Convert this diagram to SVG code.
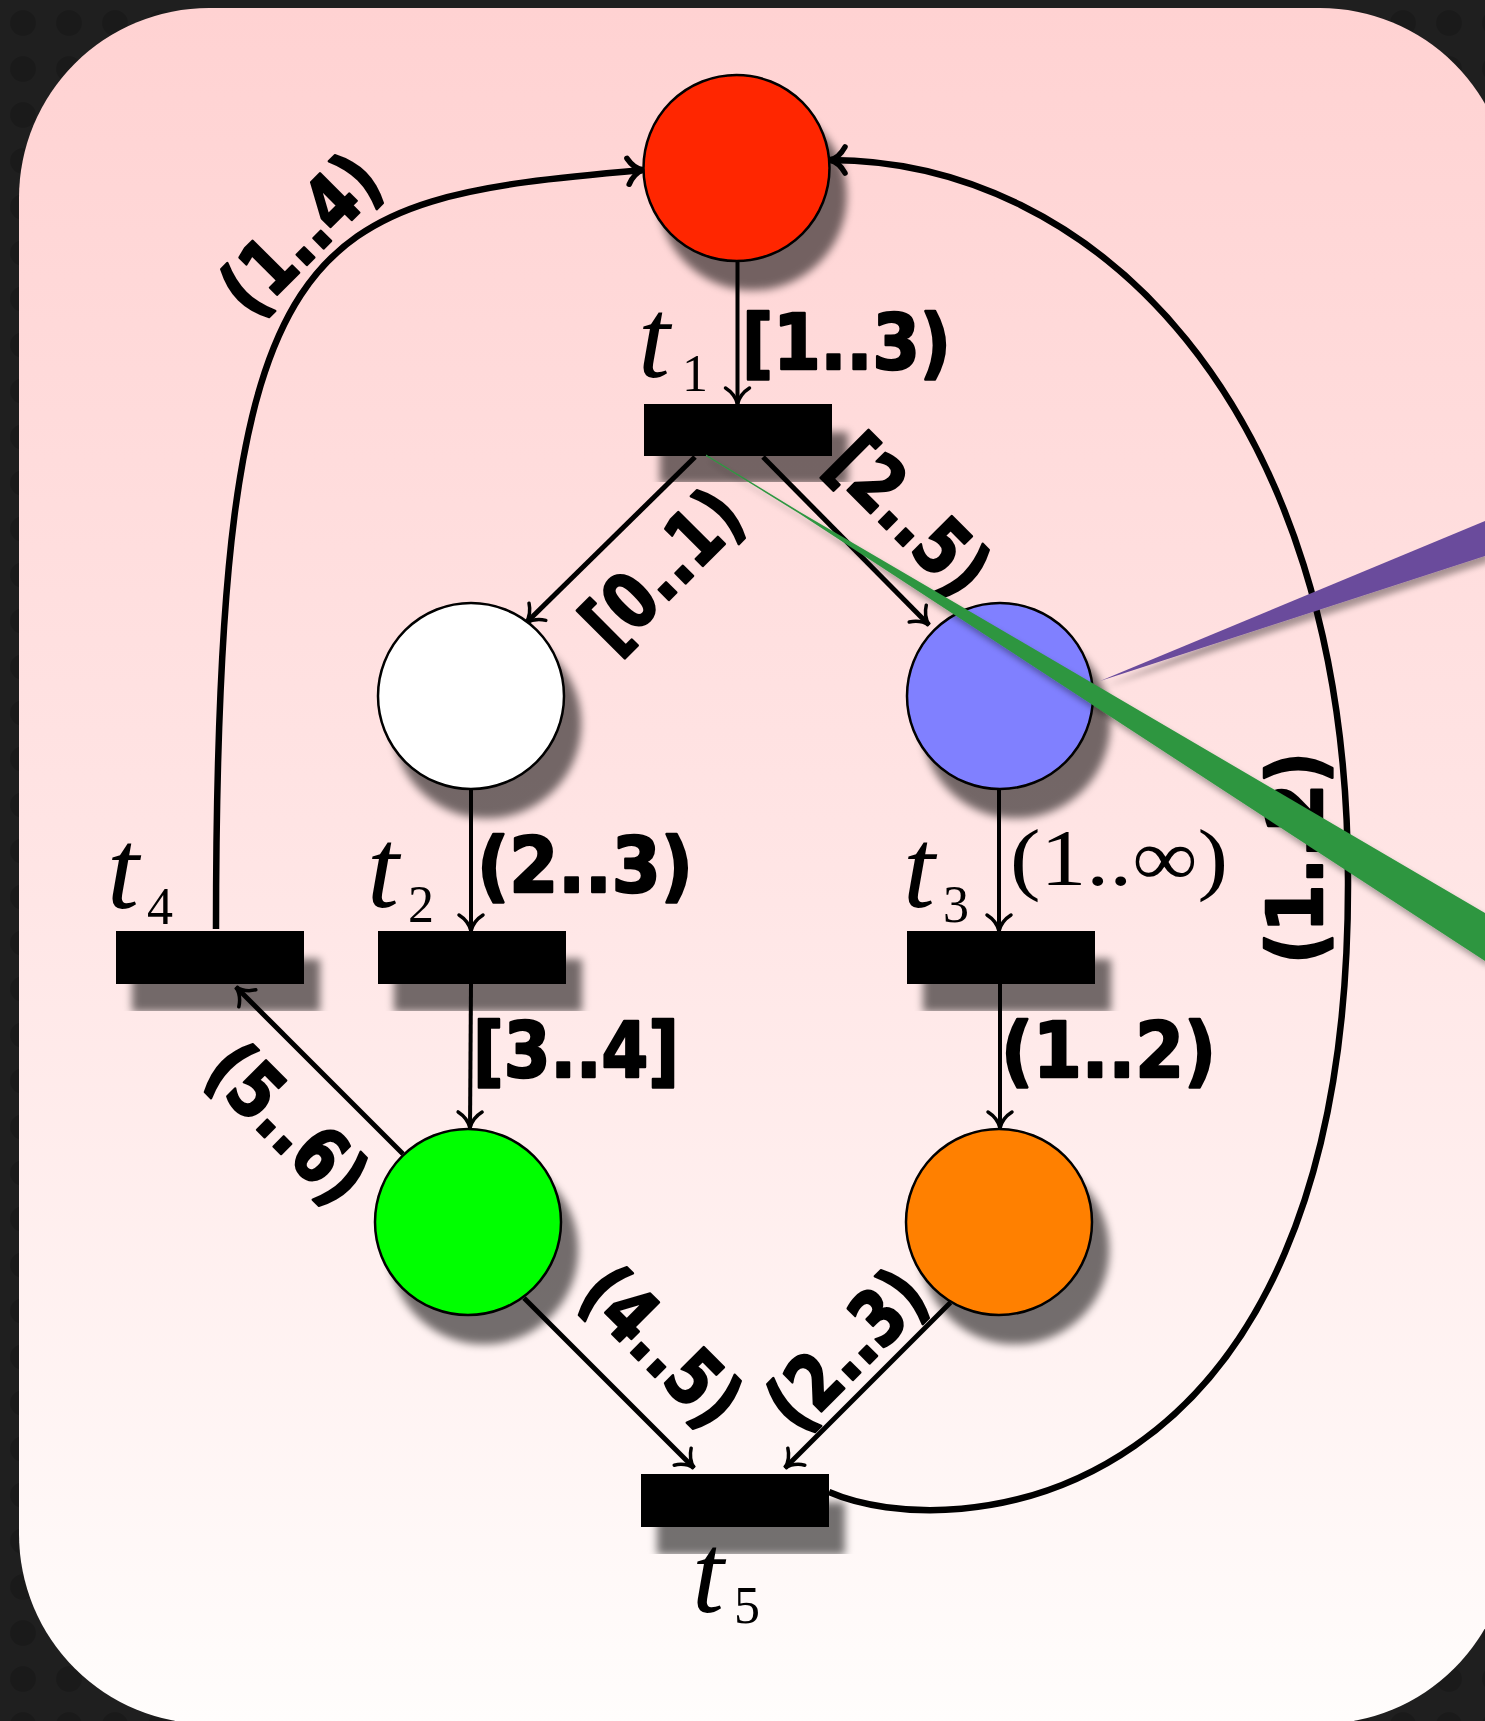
<svg xmlns="http://www.w3.org/2000/svg" width="1485" height="1721" viewBox="0 0 1485 1721">
<style>
.place{stroke:#000;stroke-width:2.5}
.trans{fill:#000}
.thin{fill:none;stroke:#000;stroke-width:4;marker-end:url(#arrThin)}
.diag{fill:none;stroke:#000;stroke-width:5;marker-end:url(#arrThin)}
.thick{fill:none;stroke:#000;stroke-width:6.5;marker-end:url(#arrThick)}
.lbl{font-family:"DejaVu Sans","Liberation Sans",sans-serif;font-weight:bold;font-size:76px;fill:#000;stroke:#000;stroke-width:2.5;stroke-linejoin:round}
.ser{font-family:"Liberation Serif","DejaVu Serif",serif;font-size:80px;fill:#000}
.ti{font-family:"Liberation Serif","DejaVu Serif",serif;font-style:italic;font-size:115px;fill:#000}
.sub{font-family:"Liberation Serif","DejaVu Serif",serif;font-size:52px;fill:#000}
</style>
<defs>
<linearGradient id="bg" x1="0" y1="0" x2="0" y2="1">
<stop offset="0" stop-color="#ffd2d2"/>
<stop offset="0.5" stop-color="#ffe5e5"/>
<stop offset="1" stop-color="#fffdfc"/>
</linearGradient>
<pattern id="tex" width="46" height="46" patternUnits="userSpaceOnUse">
<rect width="46" height="46" fill="#1f1f1f"/>
<circle cx="23" cy="23" r="13" fill="#1a1a1a"/>
</pattern>
<filter id="sh" x="-20%" y="-20%" width="150%" height="170%">
<feGaussianBlur in="SourceAlpha" stdDeviation="4"/>
<feOffset dx="16" dy="28"/>
<feComponentTransfer><feFuncA type="linear" slope="0.55"/></feComponentTransfer>
<feMerge><feMergeNode/><feMergeNode in="SourceGraphic"/></feMerge>
</filter>
<filter id="sh2" x="-10%" y="-10%" width="120%" height="130%">
<feGaussianBlur in="SourceAlpha" stdDeviation="3"/>
<feOffset dx="4" dy="6"/>
<feComponentTransfer><feFuncA type="linear" slope="0.35"/></feComponentTransfer>
<feMerge><feMergeNode/><feMergeNode in="SourceGraphic"/></feMerge>
</filter>
<marker id="arrThin" markerUnits="userSpaceOnUse" viewBox="-20 -20 40 40" markerWidth="40" markerHeight="40" refX="0" refY="0" orient="auto" overflow="visible">
<path d="M-16,-12 C-11,-4 -4,-1 0,0 C-4,1 -11,4 -16,12" fill="none" stroke="#000" stroke-width="3.5" stroke-linecap="round"/>
</marker>
<marker id="arrThick" markerUnits="userSpaceOnUse" viewBox="-20 -20 40 40" markerWidth="40" markerHeight="40" refX="0" refY="0" orient="auto" overflow="visible">
<path d="M-15,-13 C-10,-4 -4,-1 0,0 C-4,1 -10,4 -15,13" fill="none" stroke="#000" stroke-width="5.5" stroke-linecap="round"/>
</marker>
</defs>
<rect x="0" y="0" width="1485" height="1721" fill="url(#tex)"/>
<rect x="19" y="8" width="1491" height="1716" rx="190" ry="190" fill="url(#bg)"/>

<g id="connectors">
<path class="thin" d="M737.5,262 L737.5,404"/>
<path class="diag" d="M695,457 L526,623"/>
<path class="diag" d="M763,457 L929,625"/>
<path class="thin" d="M471,790 L471,931"/>
<path class="thin" d="M471,984 L470,1128"/>
<path class="thin" d="M999,790 L999,931"/>
<path class="thin" d="M1000,984 L1000,1128"/>
<path class="diag" d="M403,1154 L236,987"/>
<path class="diag" d="M524,1298 L694,1468"/>
<path class="diag" d="M950.5,1302.5 L785,1468"/>
<path class="thick" d="M216,929 C216,220 300,200 643,170"/>
<path class="thick" d="M829,1492 C950,1545 1350,1520 1348,880 C1348,400 1090,160 830,160"/>
<g id="arc-labels">
<text class="lbl" x="742" y="369" textLength="209" lengthAdjust="spacingAndGlyphs">[1..3)</text>
<text class="lbl" x="477" y="892" textLength="216" lengthAdjust="spacingAndGlyphs">(2..3)</text>
<text class="lbl" x="473" y="1077" textLength="206" lengthAdjust="spacingAndGlyphs">[3..4]</text>
<text class="lbl" x="1001" y="1077" textLength="215" lengthAdjust="spacingAndGlyphs">(1..2)</text>
<text class="ser" x="1010" y="885" textLength="218" lengthAdjust="spacingAndGlyphs">(1..∞)</text>
<text class="lbl" transform="translate(302,236) rotate(-45)" x="0" y="24" text-anchor="middle" textLength="190" lengthAdjust="spacingAndGlyphs">(1..4)</text>
<text class="lbl" transform="translate(664,571) rotate(-45)" x="0" y="24" text-anchor="middle" textLength="190" lengthAdjust="spacingAndGlyphs">[0..1)</text>
<text class="lbl" transform="translate(908,517) rotate(45)" x="0" y="24" text-anchor="middle" textLength="190" lengthAdjust="spacingAndGlyphs">[2..5)</text>
<text class="lbl" transform="translate(286,1125) rotate(45)" x="0" y="24" text-anchor="middle" textLength="190" lengthAdjust="spacingAndGlyphs">(5..6)</text>
<text class="lbl" transform="translate(660,1348) rotate(45)" x="0" y="24" text-anchor="middle" textLength="190" lengthAdjust="spacingAndGlyphs">(4..5)</text>
<text class="lbl" transform="translate(848,1351) rotate(-45)" x="0" y="24" text-anchor="middle" textLength="190" lengthAdjust="spacingAndGlyphs">(2..3)</text>
<text class="lbl" transform="translate(1298,858) rotate(-90)" x="0" y="24" text-anchor="middle" textLength="212" lengthAdjust="spacingAndGlyphs">(1..2)</text>
</g>
</g>

<g id="p_red"><circle class="place" cx="736.5" cy="168" r="93" fill="#ff2500" filter="url(#sh)"/></g>
<g id="p_white"><circle class="place" cx="471" cy="696" r="93" fill="#ffffff" filter="url(#sh)"/></g>
<g id="p_blue"><circle class="place" cx="1000" cy="696" r="93" fill="#8080ff" filter="url(#sh)"/></g>
<g id="p_green"><circle class="place" cx="468" cy="1222" r="93" fill="#06ff00" filter="url(#sh)"/></g>
<g id="p_orange"><circle class="place" cx="999" cy="1222" r="93" fill="#ff8000" filter="url(#sh)"/></g>

<g id="t1"><rect class="trans" x="644" y="404" width="188" height="52" filter="url(#sh)"/>
<text class="ti" x="638" y="377">t</text><text class="sub" x="682" y="391">1</text></g>
<g id="t2"><rect class="trans" x="378" y="931" width="188" height="53" filter="url(#sh)"/>
<text class="ti" x="367" y="907">t</text><text class="sub" x="408" y="922">2</text></g>
<g id="t3"><rect class="trans" x="907" y="931" width="188" height="53" filter="url(#sh)"/>
<text class="ti" x="903" y="907">t</text><text class="sub" x="943" y="922">3</text></g>
<g id="t4"><rect class="trans" x="116" y="931" width="188" height="53" filter="url(#sh)"/>
<text class="ti" x="107" y="908">t</text><text class="sub" x="147" y="924">4</text></g>
<g id="t5"><rect class="trans" x="641" y="1474" width="188" height="53" filter="url(#sh)"/>
<text class="ti" x="692" y="1612">t</text><text class="sub" x="734" y="1623">5</text></g>

<g id="overlay">
<polygon points="706,454.5 800,512 1485,913 1485,961 800,514 706,456" fill="#2e9641" filter="url(#sh2)"/>
<polygon points="1100,681 1485,521 1485,556" fill="#6b4c9c" filter="url(#sh2)"/>
</g>
</svg>
